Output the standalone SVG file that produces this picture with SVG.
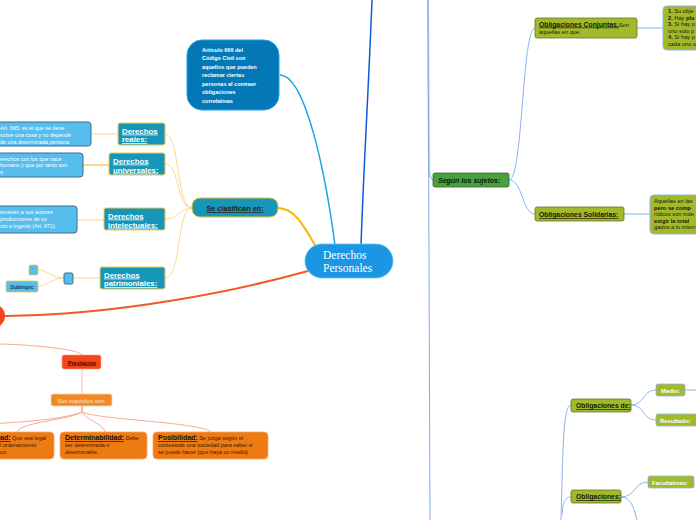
<svg xmlns="http://www.w3.org/2000/svg" width="696" height="520" viewBox="0 0 696 520">
<style>
.t{font-family:"Liberation Sans",Arial,sans-serif}
.teal{fill:#1697b9;stroke:#f4c84a;stroke-width:1}
.tealt{font-family:"Liberation Sans",Arial,sans-serif;font-weight:bold;font-size:7.8px;fill:#fff;text-decoration:underline}
.lb{fill:#56bdec;stroke:#3b6f90;stroke-width:1}
.lbt{font-family:"Liberation Sans",Arial,sans-serif;font-size:5.4px;fill:#fff}
.or{fill:#ee7a12;stroke:#f7a86a;stroke-width:0.8}
.ort{font-family:"Liberation Sans",Arial,sans-serif;font-size:5.5px;fill:#3a1a00}
.orb{font-weight:bold;font-size:7px;text-decoration:underline;fill:#111}
.ol{fill:#a1b92b;stroke:#66761e;stroke-width:0.8}
.olt{font-family:"Liberation Sans",Arial,sans-serif;font-weight:bold;font-size:6.8px;fill:#1a1a00;text-decoration:underline}
.note{fill:#a1b92b;stroke:#8db4ee;stroke-width:1}
.nt{font-family:"Liberation Sans",Arial,sans-serif;font-size:5.7px;fill:#1a1a00}
.y{fill:none;stroke:#fdd98c;stroke-width:1}
.b{fill:none;stroke:#8db4ee;stroke-width:1}
.s{fill:none;stroke:#f7ab92;stroke-width:1}
</style>
<rect width="696" height="520" fill="#fff"/>
<g id="connectors">
<path d="M335,245 C325,170 305,75 280,75" fill="none" stroke="#1aa3e8" stroke-width="1.5"/>
<path d="M361,245 C364,160 369,80 372,0" fill="none" stroke="#0b5bd8" stroke-width="1.5"/>
<path d="M316,247 C305,228 295,208 278,208" fill="none" stroke="#f7b500" stroke-width="2"/>
<path d="M308,271 C240,290 120,315 4,316" fill="none" stroke="#f15a24" stroke-width="2"/>
<path class="y" d="M192,208 C176,208 180,134 165,134"/>
<path class="y" d="M192,208 C176,208 180,164 165,164"/>
<path class="y" d="M192,208 C178,208 180,219 165,219"/>
<path class="y" d="M192,208 C176,208 182,278 165,278"/>
<path class="y" d="M91,134 L118,134"/>
<path d="M83,165 L109,165" fill="none" stroke="#fdd98c" stroke-width="2"/>
<path class="y" d="M77,220 L104,220"/>
<path class="y" d="M73,278 L100,278"/>
<path class="y" d="M64,278 C52,278 48,270 38,270"/>
<path class="y" d="M64,278 C52,278 48,286 38,286"/>
<path class="s" d="M0,344 C40,345 80,350 82,355"/>
<path d="M82,369 L82,394" fill="none" stroke="#f9c2ad" stroke-width="1"/>
<path d="M82,406 L82,412" fill="none" stroke="#f06a3a" stroke-width="1"/>
<path class="s" d="M82,412 C60,420 20,422 -10,424"/>
<path class="s" d="M82,412 C70,420 20,422 17,432"/>
<path class="s" d="M82,412 C86,420 104,424 105,432"/>
<path class="s" d="M82,412 C100,420 200,422 211,432"/>
<path d="M428,0 L429,170 Q430,180 434,180" fill="none" stroke="#b4cff5" stroke-width="2"/>
<path d="M428,0 L430,520" fill="none" stroke="#7ea8ee" stroke-width="1"/>
<path class="b" d="M509,180 C523,180 522,28 535,28"/>
<path class="b" d="M509,180 C523,180 522,214 535,214"/>
<path class="b" d="M637,28 L663,28"/>
<path class="b" d="M624,214 L650,214"/>
<path class="b" d="M561,520 C563,450 563,405 571,405"/>
<path class="b" d="M562,515 C563,500 566,497 571,497"/>
<path class="b" d="M631,405 C645,405 642,390 656,390"/>
<path class="b" d="M631,405 C645,405 642,420 656,420"/>
<path class="b" d="M685,390 L696,390"/>
<path class="b" d="M621,497 C636,497 634,482 648,482"/>
<path class="b" d="M621,497 C632,497 634,510 637,520"/>
</g>
<g id="central">
<rect x="305" y="244" width="88" height="34" rx="17" fill="#1b96e3" stroke="#6bbcf0" stroke-width="0.8"/>
<text x="323" y="258.5" font-family="'Liberation Serif','Times New Roman',serif" font-size="11.5" fill="#fff">Derechos</text>
<text x="323" y="271.5" font-family="'Liberation Serif','Times New Roman',serif" font-size="11.5" fill="#fff">Personales</text>
</g>
<g id="articulo">
<rect x="187" y="40" width="92" height="70" rx="15" fill="#0478b6" stroke="#1aa3e8" stroke-width="1"/>
<g class="t" font-size="5.5" font-weight="bold" fill="#fff">
<text x="202" y="52">Artículo 666 del</text>
<text x="202" y="60">Código Civil son</text>
<text x="202" y="69">aquellos que pueden</text>
<text x="202" y="77">reclamar ciertas</text>
<text x="202" y="86">personas al contraer</text>
<text x="202" y="94">obligaciones</text>
<text x="202" y="103">correlativas</text>
</g>
</g>
<g id="clasifican">
<rect x="192" y="198" width="86" height="19" rx="8" fill="#1697b9" stroke="#f4c030" stroke-width="1"/>
<text x="235" y="211" text-anchor="middle" class="t" font-size="7.3" font-weight="bold" fill="#222" text-decoration="underline">Se clasifican en:</text>
</g>
<g id="reales">
<rect class="teal" x="118" y="123" width="47" height="22" rx="2"/>
<text class="tealt" x="122" y="133.5">Derechos </text>
<text class="tealt" x="122" y="142">reales:</text>
</g>
<g id="universales">
<rect class="teal" x="109" y="153" width="56" height="22" rx="2"/>
<text class="tealt" x="113" y="163.5">Derechos</text>
<text class="tealt" x="113" y="172.5">universales:</text>
</g>
<g id="intelectuales">
<rect class="teal" x="104" y="208" width="61" height="22" rx="2"/>
<text class="tealt" x="108" y="218.5">Derechos</text>
<text class="tealt" x="108" y="227.5">intelectuales:</text>
</g>
<g id="patrimoniales">
<rect class="teal" x="100" y="267" width="65" height="22" rx="2"/>
<text class="tealt" x="104" y="277.5">Derechos </text>
<text class="tealt" x="104" y="286">patrimoniales:</text>
</g>
<g id="det-reales">
<rect class="lb" x="-10" y="122" width="101" height="24" rx="3"/>
<text class="lbt" x="0" y="130">Art. 665, es el que se tiene</text>
<text class="lbt" x="0" y="137">sobre una cosa y no depende</text>
<text class="lbt" x="0" y="143.5">de una determinada persona.</text>
</g>
<g id="det-universales">
<rect class="lb" x="-10" y="153" width="93" height="24" rx="3"/>
<text class="lbt" x="0" y="161">erechos con los que nace</text>
<text class="lbt" x="0" y="167">humano y que por tanto son</text>
<text class="lbt" x="0" y="173.5">s.</text>
</g>
<g id="det-intelectuales">
<rect class="lb" x="-10" y="206" width="87" height="27" rx="3"/>
<text class="lbt" x="0" y="214">tenecen a sus autores</text>
<text class="lbt" x="0" y="221">producciones de su</text>
<text class="lbt" x="0" y="228">nto o ingenio (Art. 671)</text>
</g>
<g id="sq-mid">
<rect class="lb" x="64" y="273" width="9" height="11" rx="1.5"/>
</g>
<g id="sq-small">
<rect x="29" y="265" width="9" height="10" rx="1.5" fill="#56bdec" stroke="#f4c84a" stroke-width="0.8"/>
</g>
<g id="subtopic">
<rect x="6" y="281" width="32" height="11" rx="1.5" fill="#56bdec" stroke="#f4c84a" stroke-width="0.8"/>
<text x="22" y="288.5" text-anchor="middle" class="t" font-size="5.5" font-weight="bold" fill="#1d3a50">Subtopic</text>
</g>
<g id="red-node">
<ellipse cx="-10" cy="316" rx="15" ry="13" fill="#f5461a"/>
</g>
<g id="prestacion">
<rect x="62" y="355" width="39" height="14" rx="2" fill="#f5461a" stroke="#fba080" stroke-width="0.6"/>
<text x="82" y="364.5" text-anchor="middle" class="t" font-size="5.6" font-weight="bold" fill="#3a0a00" text-decoration="underline">Prestación</text>
</g>
<g id="requisitos">
<rect x="51" y="394" width="61" height="12" rx="2" fill="#f08a24" stroke="#fbd0b0" stroke-width="0.8"/>
<text x="81.5" y="402.5" text-anchor="middle" class="t" font-size="5.7" fill="#fde6d2">Sus requisitos son:</text>
</g>
<g id="licitud">
<rect class="or" x="-10" y="432" width="64" height="27" rx="4"/>
<text class="ort" x="0" y="440"><tspan class="orb">ad:</tspan> Que sea legal</text>
<text class="ort" x="0" y="447">l ordenamiento</text>
<text class="ort" x="0" y="454">co.</text>
</g>
<g id="determinabilidad">
<rect class="or" x="60" y="432" width="87" height="27" rx="4"/>
<text class="ort" x="65" y="440"><tspan class="orb">Determinabilidad:</tspan> Debe</text>
<text class="ort" x="65" y="447">ser determinada o</text>
<text class="ort" x="65" y="454">determinable.</text>
</g>
<g id="posibilidad">
<rect class="or" x="153" y="432" width="115" height="27" rx="4"/>
<text class="ort" x="158" y="440"><tspan class="orb">Posibilidad:</tspan> Se juzga según el</text>
<text class="ort" x="158" y="447">contestode una sociedad para saber si</text>
<text class="ort" x="158" y="454">se puede hacer (que haya un medio).</text>
</g>
<g id="segun">
<rect x="433" y="173" width="76" height="14" rx="2" fill="#4aa03f" stroke="#2f6a2a" stroke-width="0.8"/>
<text x="438" y="183" class="t" font-size="7" font-weight="bold" font-style="italic" fill="#0d1a0a">Según los sujetos:</text>
</g>
<g id="conjuntas">
<rect class="ol" x="535" y="18" width="102" height="20" rx="2"/>
<text x="539" y="26.5" class="t" fill="#1a1a00"><tspan class="olt">Obligaciones Conjuntas,</tspan><tspan font-size="5.7">Son</tspan></text>
<text x="539" y="34" class="t" font-size="5.7" fill="#1a1a00">aquellas en que:</text>
</g>
<g id="note-conjuntas">
<rect class="note" x="663" y="6" width="45" height="44" rx="4"/>
<text class="nt" x="668" y="13"><tspan font-weight="bold">1.</tspan> Su obje</text>
<text class="nt" x="668" y="20"><tspan font-weight="bold">2.</tspan> Hay <tspan font-weight="bold">plu</tspan></text>
<text class="nt" x="668" y="26"><tspan font-weight="bold">3.</tspan> Si hay p</text>
<text class="nt" x="668" y="33">uno solo p</text>
<text class="nt" x="668" y="39"><tspan font-weight="bold">4.</tspan> Si hay p</text>
<text class="nt" x="668" y="46">cada uno s</text>
</g>
<g id="solidarias">
<rect class="ol" x="535" y="207" width="89" height="14" rx="2"/>
<text class="olt" x="539" y="217">Obligaciones Solidarias:</text>
</g>
<g id="note-solidarias">
<rect class="note" x="650" y="195" width="56" height="39" rx="4"/>
<text class="nt" x="654" y="203">Aquellas en las</text>
<text class="nt" x="654" y="210" font-weight="bold">pero se comp</text>
<text class="nt" x="654" y="216">rídicos son inde</text>
<text class="nt" x="654" y="223" font-weight="bold">exigir la total</text>
<text class="nt" x="654" y="229">gados a lo mism</text>
</g>
<g id="oblig-de">
<rect class="ol" x="571" y="399" width="60" height="13" rx="2"/>
<text class="olt" x="576" y="408" font-size="5.9">Obligaciones de:</text>
</g>
<g id="medio">
<rect x="656" y="384" width="29" height="12" rx="2" fill="#a1b92b" stroke="#8db4ee" stroke-width="0.8"/>
<text x="670.5" y="392.5" text-anchor="middle" class="t" font-size="5.9" font-weight="bold" fill="#fff">Medio:</text>
</g>
<g id="resultado">
<rect x="656" y="414" width="41" height="12" rx="2" fill="#a1b92b" stroke="#8db4ee" stroke-width="0.8"/>
<text x="660" y="422.5" class="t" font-size="5.9" font-weight="bold" fill="#fff">Resultado:</text>
</g>
<g id="obligaciones">
<rect class="ol" x="571" y="490" width="50" height="13" rx="2"/>
<text class="olt" x="576" y="499" font-size="5.9">Obligaciones:</text>
</g>
<g id="facultativas">
<rect x="648" y="476" width="46" height="12" rx="2" fill="#a1b92b" stroke="#8db4ee" stroke-width="0.8"/>
<text x="652" y="484.5" class="t" font-size="5.9" font-weight="bold" fill="#fff">Facultativas:</text>
</g>
</svg>
